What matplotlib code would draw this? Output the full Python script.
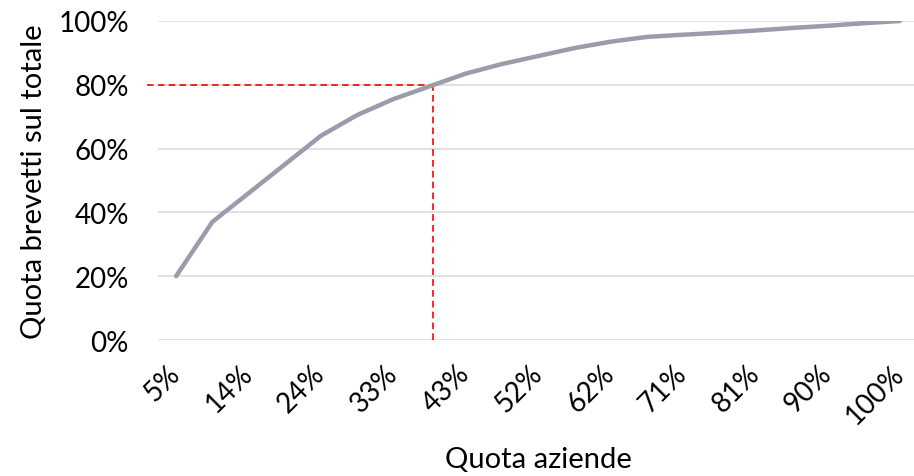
import numpy as np
import matplotlib
matplotlib.use("Agg")
import matplotlib.pyplot as plt
from matplotlib.ticker import PercentFormatter

plt.rcParams['font.family'] = ['Lato', 'DejaVu Sans']

# cumulative share of patents vs share of firms (21 steps)
quota_aziende = [k / 21 for k in range(1, 22)]
quota_brevetti = [0.20, 0.37, 0.46, 0.55, 0.64, 0.705, 0.755, 0.795, 0.835, 0.865,
                  0.89, 0.915, 0.935, 0.95, 0.957, 0.963, 0.970, 0.978, 0.985, 0.993, 1.00]
tick_labels = ['5%', '14%', '24%', '33%', '43%', '52%', '62%', '71%', '81%', '90%', '100%']
soglia_y = 0.80
soglia_x = 0.386

fig = plt.figure(figsize=(9.14, 4.77), dpi=100)
step = 1 / 21
ax = fig.add_axes([158 / 914, 136 / 477, 760 / 914, 319 / 477])

ax.plot(quota_aziende, quota_brevetti, color='#9b9bab', lw=3.2,
        solid_capstyle='round', solid_joinstyle='round', zorder=3)

# 80% reference lines
x_start = quota_aziende[0] - step / 2 - 0.0145
ax.plot([x_start, soglia_x], [soglia_y, soglia_y],
        color='#ff0000', lw=1.2, ls=(0, (4, 2.5)), zorder=2, clip_on=False)
ax.plot([soglia_x, soglia_x], [0, soglia_y],
        color='#ff0000', lw=1.2, ls=(0, (4, 2.5)), zorder=2)

ax.set_xlim(quota_aziende[0] - step / 2, quota_aziende[-1] + step / 2)
ax.set_ylim(0, 1)
ax.set_yticks(np.arange(0, 1.01, 0.2))
ax.yaxis.set_major_formatter(PercentFormatter(1.0, decimals=0))
ax.set_xticks(quota_aziende[::2])
ax.set_xticklabels(tick_labels, rotation=45, ha='right', va='center',
                   rotation_mode='anchor')

ax.grid(axis='y', color='#d9d9d9', lw=1.1, zorder=1)
ax.set_axisbelow(True)
for s in ax.spines.values():
    s.set_visible(False)
ax.tick_params(axis='both', length=0, labelsize=20, colors='black')
ax.tick_params(axis='x', pad=21)
ax.tick_params(axis='y', pad=21)

ax.set_xlabel('Quota aziende', fontsize=21, labelpad=13)
ax.set_ylabel('Quota brevetti sul totale', fontsize=21, labelpad=8)

fig.savefig('out.png', dpi=100)
